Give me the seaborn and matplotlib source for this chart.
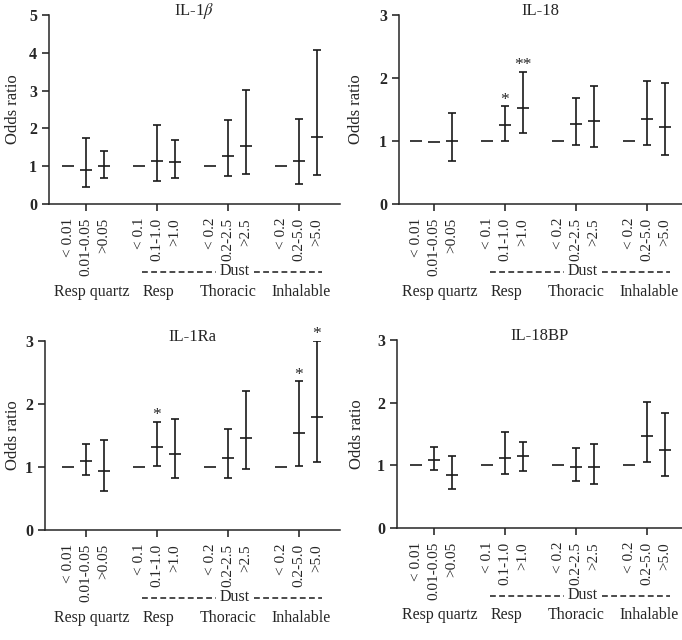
import numpy as np
import pandas as pd
import matplotlib
matplotlib.use("Agg")
import matplotlib.pyplot as plt
import matplotlib.transforms as mtransforms
import seaborn as sns

nan = np.nan

# ==========================================
# DATA
# ==========================================

positions = [0, 1, 2, 4, 5, 6, 8, 9, 10, 12, 13, 14]
tick_labels = ["< 0.01", "0.01-0.05", ">0.05",
               "< 0.1", "0.1-1.0", ">1.0",
               "< 0.2", "0.2-2.5", ">2.5",
               "< 0.2", "0.2-5.0", ">5.0"]
group_labels = ["Resp quartz", "Resp", "Thoracic", "Inhalable"]
group_x = [1.3, 5.1, 9.0, 13.1]

il1b_or = [1.0, 0.89, 1.00, 1.0, 1.13, 1.10, 1.0, 1.28, 1.54, 1.0, 1.13, 1.76]
il1b_lo = [nan, 0.44, 0.68, nan, 0.60, 0.70, nan, 0.73, 0.79, nan, 0.54, 0.76]
il1b_hi = [nan, 1.75, 1.41, nan, 2.10, 1.69, nan, 2.21, 3.01, nan, 2.25, 4.08]
il1b_sig = ["", "", "", "", "", "", "", "", "", "", "", ""]

il18_or = [1.0, 0.98, 1.00, 1.0, 1.25, 1.53, 1.0, 1.27, 1.31, 1.0, 1.35, 1.22]
il18_lo = [nan, nan, 0.69, nan, 1.00, 1.12, nan, 0.93, 0.91, nan, 0.93, 0.78]
il18_hi = [nan, nan, 1.45, nan, 1.55, 2.10, nan, 1.69, 1.87, nan, 1.96, 1.92]
il18_sig = ["", "", "", "", "*", "**", "", "", "", "", "", ""]

il1ra_or = [1.0, 1.10, 0.94, 1.0, 1.32, 1.21, 1.0, 1.15, 1.46, 1.0, 1.54, 1.79]
il1ra_lo = [nan, 0.87, 0.62, nan, 1.01, 0.83, nan, 0.82, 0.97, nan, 1.01, 1.08]
il1ra_hi = [nan, 1.36, 1.43, nan, 1.71, 1.76, nan, 1.61, 2.21, nan, 2.36, 3.00]
il1ra_sig = ["", "", "", "", "*", "", "", "", "", "", "*", "*"]

il18bp_or = [1.0, 1.09, 0.85, 1.0, 1.12, 1.15, 1.0, 0.97, 0.97, 1.0, 1.47, 1.25]
il18bp_lo = [nan, 0.92, 0.62, nan, 0.86, 0.91, nan, 0.75, 0.70, nan, 1.05, 0.83]
il18bp_hi = [nan, 1.29, 1.15, nan, 1.53, 1.37, nan, 1.28, 1.34, nan, 2.01, 1.83]
il18bp_sig = ["", "", "", "", "", "", "", "", "", "", "", ""]

# ==========================================
# STYLE
# ==========================================

sns.set_theme(style="ticks")
plt.rcParams["font.family"] = ["Liberation Serif", "DejaVu Serif"]
plt.rcParams["mathtext.fontset"] = "stix"
plt.rcParams["axes.linewidth"] = 1.1

W, H = 682, 640
fig = plt.figure(figsize=(W / 100, H / 100), dpi=100)
fig.patch.set_facecolor("white")

unit = 17.75  # px per x unit

# (left px, right px, top px, bottom px, px of position 1, ymax, ylabel px, title, data)
panels = [
    (49, 340, 15, 204, 86, 5, 21, r"IL-1$\beta$", il1b_or, il1b_lo, il1b_hi, il1b_sig),
    (399, 682, 15, 204, 434, 3, 364, "IL-18", il18_or, il18_lo, il18_hi, il18_sig),
    (45, 340, 341, 530, 86, 3, 21, "IL-1Ra", il1ra_or, il1ra_lo, il1ra_hi, il1ra_sig),
    (397, 682, 340, 528, 434, 3, 365, "IL-18BP", il18bp_or, il18bp_lo, il18bp_hi, il18bp_sig),
]

for left, right, top, bottom, t1, ymax, ylab_px, title, odds, lo, hi, sig in panels:

    ax = fig.add_axes([left / W, 1 - bottom / H, (right - left) / W, (bottom - top) / H])

    df = pd.DataFrame({"x": positions, "OR": odds, "lo": lo, "hi": hi, "sig": sig})
    ci = df.dropna()

    ax.errorbar(ci["x"], ci["OR"],
                yerr=[ci["OR"] - ci["lo"], ci["hi"] - ci["OR"]],
                fmt="none", ecolor="#1a1a1a", elinewidth=1.2,
                capsize=2.9, capthick=1.2, zorder=2)

    sns.scatterplot(data=df, x="x", y="OR", marker="_", s=75,
                    color="#1a1a1a", linewidth=1.2, ax=ax, zorder=3)

    for _, row in df[df["sig"] != ""].iterrows():
        ax.annotate(row["sig"], (row["x"], row["hi"]), xytext=(0, 2),
                    textcoords="offset points", ha="center", va="baseline",
                    fontsize=12.5, annotation_clip=False)

    ax.set_xlim(1 - (t1 - left) / unit, 1 + (right - t1) / unit)
    ax.set_ylim(0, ymax)
    ax.set_yticks(range(0, ymax + 1))

    # all category labels as major ticks (no tick mark), group centre ticks as minor
    ax.xaxis.remove_overlapping_locs = False
    ax.set_xticks(positions)
    ax.set_xticklabels(tick_labels, rotation=90, fontsize=11)
    ax.set_xticks([1, 5, 9, 13], minor=True)
    ax.tick_params(axis="x", which="major", length=0, pad=10)
    ax.tick_params(axis="x", which="minor", length=5, width=1.1, color="#1a1a1a")
    ax.tick_params(axis="y", which="major", length=5, width=1.1, color="#1a1a1a")
    for lab in ax.get_yticklabels():
        lab.set_fontsize(11.5)
        lab.set_fontweight("bold")

    ax.set_xlabel("")
    ax.set_ylabel("Odds ratio", fontsize=12)
    ax.yaxis.set_label_coords((ylab_px - left) / (right - left), 0.5)
    ax.text(0.5, 1.0, title, transform=ax.transAxes, ha="center", va="baseline",
            fontsize=12)
    sns.despine(ax=ax)

    trans = mtransforms.blended_transform_factory(ax.transData, ax.transAxes)
    for gx, gl in zip(group_x, group_labels):
        ax.text(gx, -0.465, gl, transform=trans, ha="center", va="center", fontsize=11.5)

    ax.text(9.4, -0.355, "Dust", transform=trans, ha="center", va="center", fontsize=11.5)
    ax.plot([4.15, 8.35], [-0.36, -0.36], transform=trans, color="#1a1a1a",
            lw=1.1, dashes=(3.8, 2.2), clip_on=False)
    ax.plot([10.45, 14.3], [-0.36, -0.36], transform=trans, color="#1a1a1a",
            lw=1.1, dashes=(3.8, 2.2), clip_on=False)

fig.savefig("out.png", dpi=100, facecolor="white")
